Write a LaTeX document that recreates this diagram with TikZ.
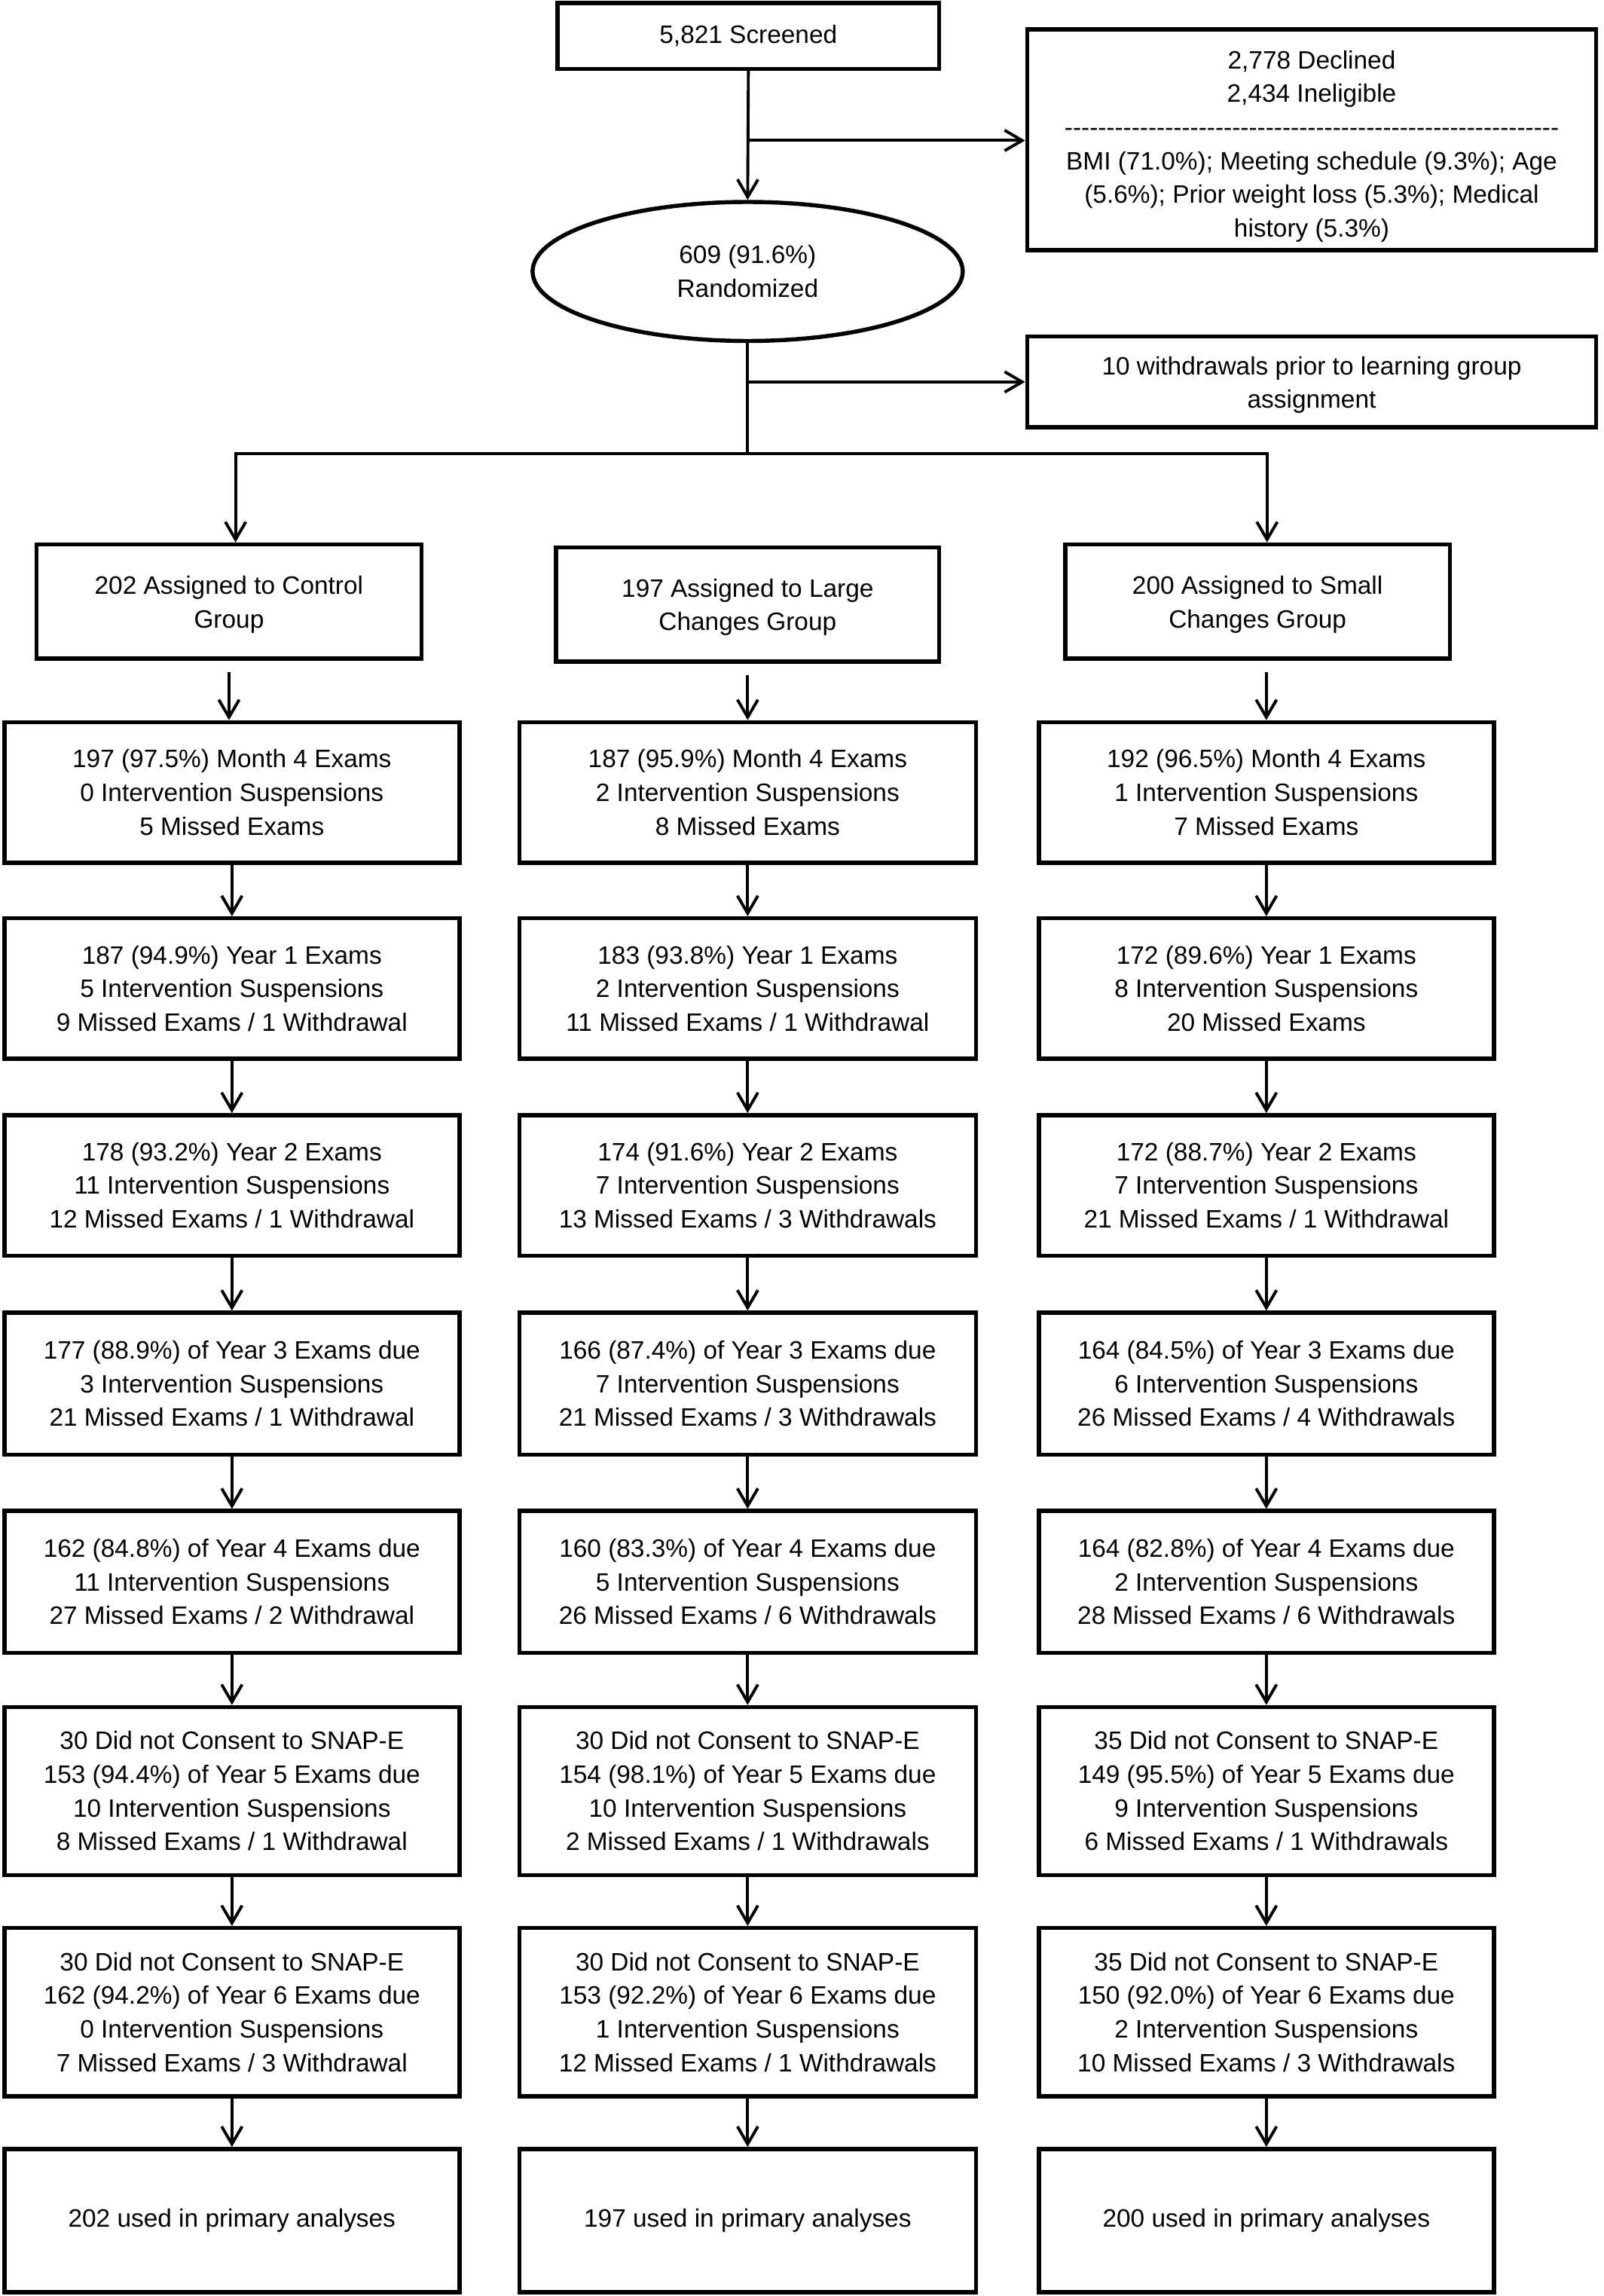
\documentclass[tikz,border=0pt]{standalone}
\usepackage{fontspec}
\setmainfont{Liberation Sans}
\usetikzlibrary{arrows.meta,shapes.geometric}
\begin{document}
\begin{tikzpicture}[x=1pt,y=-1pt,
  txt/.style={font=\fontsize{17.2}{23}\selectfont, align=center, inner sep=0pt},
  box/.style={draw, rectangle, line width=2.8pt, txt},
  conn/.style={line width=2pt, line cap=rect},
  arr/.style={line width=2pt, -{Straight Barb[length=12pt,width=14pt]}},
  cA/.style={box, minimum width=311pt},
  cB/.style={box, minimum width=312pt},
  cC/.style={box, minimum width=311pt},
  hS/.style={minimum height=96pt},
  hT/.style={minimum height=97pt},
  hL/.style={minimum height=115pt},
  hF/.style={minimum height=98pt}]
\useasboundingbox (0,0) rectangle (1096,1569);
\fill[white] (0,0) rectangle (1096,1569);

% top part
\node[box, minimum width=261pt, minimum height=45pt] (scr) at (511.5,24.5) {5,821 Screened};
\node[box, minimum width=389pt, minimum height=151pt] (dec) at (896.5,95.5) {};
\node[txt] (dect) at (896.5,100) 
  {2,778 Declined\\2,434 Ineligible\\
   -{}-{}-{}-{}-{}-{}-{}-{}-{}-{}-{}-{}-{}-{}-{}-{}-{}-{}-{}-{}-{}-{}-{}-{}-{}-{}-{}-{}-{}-{}-{}-{}-{}-{}-{}-{}-{}-{}-{}-{}-{}-{}-{}-{}-{}-{}-{}-{}-{}-{}-{}-{}-{}-{}-{}-{}-{}-{}-{}\\
   BMI (71.0\%); Meeting schedule (9.3\%); Age\\(5.6\%); Prior weight loss (5.3\%); Medical\\history (5.3\%)};
\node[draw, ellipse, line width=2.8pt, minimum width=294pt, minimum height=95pt, txt] (ran) at (511,185.5) {609 (91.6\%)\\Randomized};
\node[box, minimum width=389pt, minimum height=62pt] (wd) at (896.5,261) {};
\node[txt] (wdt) at (896.5,263) {10 withdrawals prior to learning group\\assignment};

% group boxes
\node[box, minimum width=263pt, minimum height=78pt] (g1) at (156.5,411) {};
\node[txt] (g1t) at (156.5,413) {202 Assigned to Control\\Group};
\node[box, minimum width=262pt, minimum height=78pt] (g2) at (511,413) {};
\node[txt] (g2t) at (511,415) {197 Assigned to Large\\Changes Group};
\node[box, minimum width=263pt, minimum height=78pt] (g3) at (859.5,411) {};
\node[txt] (g3t) at (859.5,413) {200 Assigned to Small\\Changes Group};

% column 1
\node[cA,hS] (r0-1) at (158.5,541.5) {197 (97.5\%) Month 4 Exams\\0 Intervention Suspensions\\5 Missed Exams};
\node[cA,hS] (r1-1) at (158.5,675.5) {187 (94.9\%) Year 1 Exams\\5 Intervention Suspensions\\9 Missed Exams / 1 Withdrawal};
\node[cA,hS] (r2-1) at (158.5,810) {178 (93.2\%) Year 2 Exams\\11 Intervention Suspensions\\12 Missed Exams / 1 Withdrawal};
\node[cA,hT] (r3-1) at (158.5,945.5) {177 (88.9\%) of Year 3 Exams due\\3 Intervention Suspensions\\21 Missed Exams / 1 Withdrawal};
\node[cA,hT] (r4-1) at (158.5,1081) {162 (84.8\%) of Year 4 Exams due\\11 Intervention Suspensions\\27 Missed Exams / 2 Withdrawal};
\node[cA,hL] (r5-1) at (158.5,1224) {30 Did not Consent to SNAP-E\\153 (94.4\%) of Year 5 Exams due\\10 Intervention Suspensions\\8 Missed Exams / 1 Withdrawal};
\node[cA,hL] (r6-1) at (158.5,1375) {30 Did not Consent to SNAP-E\\162 (94.2\%) of Year 6 Exams due\\0 Intervention Suspensions\\7 Missed Exams / 3 Withdrawal};
\node[cA,hF] (r7-1) at (158.5,1517.5) {202 used in primary analyses};

% column 2
\node[cB,hS] (r0-2) at (511,541.5) {187 (95.9\%) Month 4 Exams\\2 Intervention Suspensions\\8 Missed Exams};
\node[cB,hS] (r1-2) at (511,675.5) {183 (93.8\%) Year 1 Exams\\2 Intervention Suspensions\\11 Missed Exams / 1 Withdrawal};
\node[cB,hS] (r2-2) at (511,810) {174 (91.6\%) Year 2 Exams\\7 Intervention Suspensions\\13 Missed Exams / 3 Withdrawals};
\node[cB,hT] (r3-2) at (511,945.5) {166 (87.4\%) of Year 3 Exams due\\7 Intervention Suspensions\\21 Missed Exams / 3 Withdrawals};
\node[cB,hT] (r4-2) at (511,1081) {160 (83.3\%) of Year 4 Exams due\\5 Intervention Suspensions\\26 Missed Exams / 6 Withdrawals};
\node[cB,hL] (r5-2) at (511,1224) {30 Did not Consent to SNAP-E\\154 (98.1\%) of Year 5 Exams due\\10 Intervention Suspensions\\2 Missed Exams / 1 Withdrawals};
\node[cB,hL] (r6-2) at (511,1375) {30 Did not Consent to SNAP-E\\153 (92.2\%) of Year 6 Exams due\\1 Intervention Suspensions\\12 Missed Exams / 1 Withdrawals};
\node[cB,hF] (r7-2) at (511,1517.5) {197 used in primary analyses};

% column 3
\node[cC,hS] (r0-3) at (865.5,541.5) {192 (96.5\%) Month 4 Exams\\1 Intervention Suspensions\\7 Missed Exams};
\node[cC,hS] (r1-3) at (865.5,675.5) {172 (89.6\%) Year 1 Exams\\8 Intervention Suspensions\\20 Missed Exams};
\node[cC,hS] (r2-3) at (865.5,810) {172 (88.7\%) Year 2 Exams\\7 Intervention Suspensions\\21 Missed Exams / 1 Withdrawal};
\node[cC,hT] (r3-3) at (865.5,945.5) {164 (84.5\%) of Year 3 Exams due\\6 Intervention Suspensions\\26 Missed Exams / 4 Withdrawals};
\node[cC,hT] (r4-3) at (865.5,1081) {164 (82.8\%) of Year 4 Exams due\\2 Intervention Suspensions\\28 Missed Exams / 6 Withdrawals};
\node[cC,hL] (r5-3) at (865.5,1224) {35 Did not Consent to SNAP-E\\149 (95.5\%) of Year 5 Exams due\\9 Intervention Suspensions\\6 Missed Exams / 1 Withdrawals};
\node[cC,hL] (r6-3) at (865.5,1375) {35 Did not Consent to SNAP-E\\150 (92.0\%) of Year 6 Exams due\\2 Intervention Suspensions\\10 Missed Exams / 3 Withdrawals};
\node[cC,hF] (r7-3) at (865.5,1517.5) {200 used in primary analyses};

% connectors at top
\draw[arr] (scr.south) -- (ran.north);
\coordinate (b1) at (511,96);
\draw[arr] (b1) -- (b1 -| dec.west);
\coordinate (b2) at (511,261);
\coordinate (sp) at (511,310);
\draw[conn] (ran.south) -- (sp);
\draw[arr] (b2) -- (wd.west);
\coordinate (hl) at (161,310);
\coordinate (hr) at (866,310);
\draw[conn] (hl) -- (hr);
\draw[arr] (hl) -- (hl |- g1.north);
\draw[arr] (hr) -- (hr |- g3.north);

% groups to first row
\draw[arr, shorten <=8pt] (g1.south) -- (g1.south |- r0-1.north);
\draw[arr, shorten <=8pt] (g2.south) -- (r0-2.north);
\draw[arr, shorten <=8pt] (r0-3.north |- g3.south) -- (r0-3.north);

% column chains
\foreach \c in {1,2,3} {
  \foreach \r [evaluate=\r as \n using int(\r+1)] in {0,...,6} {
    \draw[arr] (r\r-\c.south) -- (r\n-\c.north);
  }
}
\end{tikzpicture}
\end{document}
